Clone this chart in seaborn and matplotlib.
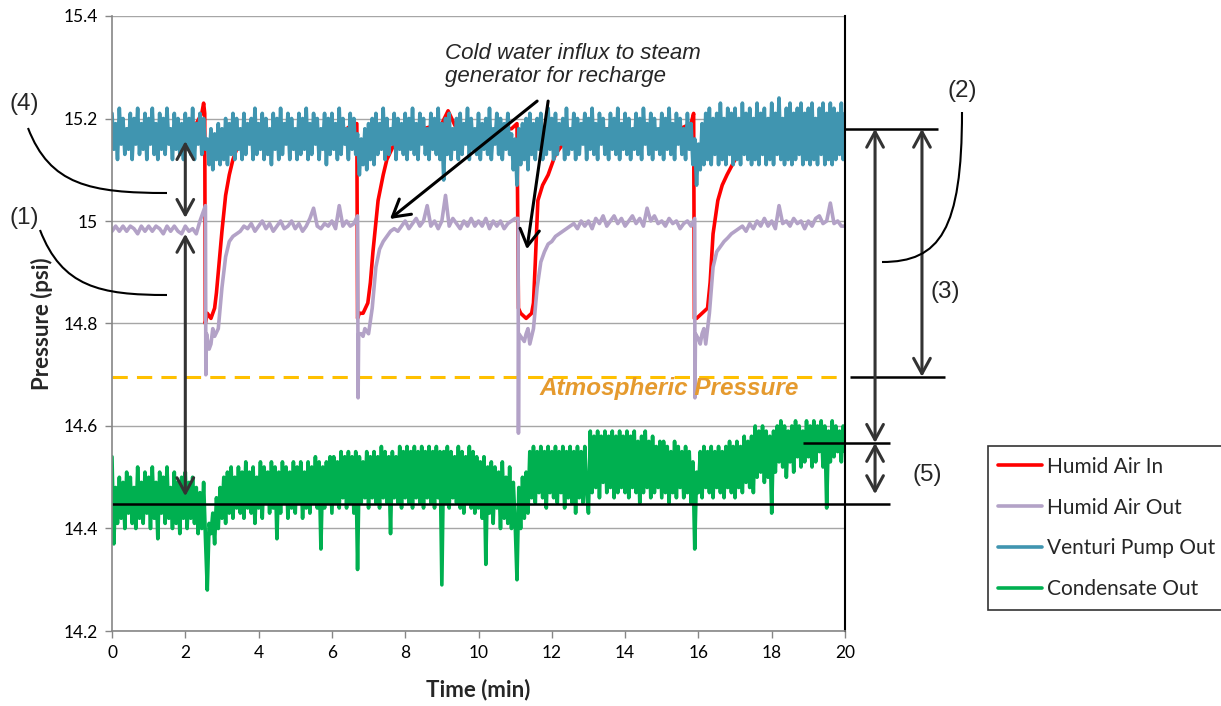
import matplotlib
matplotlib.use("Agg")
import numpy as np
import pandas as pd
import matplotlib.pyplot as plt
import seaborn as sns
from matplotlib.path import Path
from matplotlib.patches import PathPatch

# ---------------- data ----------------
series_names = ["Humid Air In", "Humid Air Out", "Venturi Pump Out", "Condensate Out"]
series_colors = ["#FF0000", "#B3A2C7", "#4095B0", "#00B050"]

x_ticks = [0, 2, 4, 6, 8, 10, 12, 14, 16, 18, 20]
y_ticks = [14.2, 14.4, 14.6, 14.8, 15.0, 15.2, 15.4]
y_tick_labels = ["14.2", "14.4", "14.6", "14.8", "15", "15.2", "15.4"]

grid_time = [round(0.1 * i, 1) for i in range(201)]
fine_time = [round(0.05 * i, 2) for i in range(401)]

venturi_values = [
    15.21, 15.14, 15.19, 15.12, 15.22, 15.15, 15.20, 15.13, 15.18, 15.14, 15.21, 15.12, 15.20, 15.15, 15.22, 15.13, 15.19, 15.14, 15.21, 15.12,
    15.20, 15.15, 15.22, 15.13, 15.19, 15.12, 15.21, 15.14, 15.20, 15.13, 15.22, 15.15, 15.18, 15.12, 15.21, 15.14, 15.20, 15.13, 15.19, 15.12,
    15.21, 15.14, 15.20, 15.13, 15.22, 15.12, 15.19, 15.15, 15.21, 15.13, 15.20, 15.14, 15.16, 15.11, 15.18, 15.10, 15.17, 15.12, 15.19, 15.11,
    15.18, 15.12, 15.20, 15.11, 15.19, 15.13, 15.21, 15.12, 15.20, 15.14, 15.18, 15.12, 15.21, 15.13, 15.19, 15.15, 15.20, 15.12, 15.22, 15.13,
    15.19, 15.14, 15.21, 15.12, 15.20, 15.13, 15.18, 15.11, 15.21, 15.14, 15.20, 15.12, 15.22, 15.13, 15.19, 15.15, 15.21, 15.12, 15.20, 15.14,
    15.18, 15.12, 15.21, 15.13, 15.20, 15.14, 15.22, 15.12, 15.19, 15.13, 15.21, 15.15, 15.20, 15.12, 15.18, 15.14, 15.21, 15.11, 15.20, 15.13,
    15.21, 15.14, 15.19, 15.12, 15.22, 15.13, 15.20, 15.15, 15.18, 15.12, 15.21, 15.14, 15.20, 15.13, 15.17, 15.09, 15.16, 15.11, 15.18, 15.10,
    15.19, 15.12, 15.20, 15.11, 15.21, 15.13, 15.19, 15.14, 15.22, 15.12, 15.20, 15.13, 15.18, 15.15, 15.21, 15.12, 15.20, 15.14, 15.19, 15.13,
    15.21, 15.12, 15.20, 15.14, 15.22, 15.13, 15.19, 15.12, 15.21, 15.15, 15.20, 15.13, 15.18, 15.12, 15.21, 15.14, 15.20, 15.13, 15.22, 15.12,
    15.19, 15.08, 15.20, 15.13, 15.21, 15.12, 15.18, 15.14, 15.20, 15.12, 15.21, 15.13, 15.19, 15.15, 15.22, 15.12, 15.20, 15.14, 15.18, 15.13,
    15.21, 15.12, 15.19, 15.14, 15.20, 15.13, 15.22, 15.12, 15.18, 15.15, 15.21, 15.13, 15.20, 15.12, 15.19, 15.14, 15.21, 15.13, 15.17, 15.10,
    15.16, 15.07, 15.18, 15.11, 15.19, 15.12, 15.20, 15.10, 15.21, 15.13, 15.19, 15.12, 15.20, 15.14, 15.21, 15.12, 15.18, 15.13, 15.22, 15.14,
    15.20, 15.12, 15.21, 15.13, 15.19, 15.15, 15.20, 15.12, 15.22, 15.13, 15.18, 15.14, 15.21, 15.12, 15.20, 15.13, 15.19, 15.15, 15.21, 15.12,
    15.20, 15.14, 15.22, 15.13, 15.19, 15.12, 15.21, 15.15, 15.20, 15.13, 15.18, 15.12, 15.21, 15.14, 15.20, 15.13, 15.22, 15.12, 15.19, 15.14,
    15.21, 15.13, 15.20, 15.12, 15.18, 15.14, 15.21, 15.13, 15.20, 15.12, 15.22, 15.15, 15.19, 15.13, 15.21, 15.12, 15.20, 15.14, 15.18, 15.13,
    15.21, 15.12, 15.20, 15.14, 15.22, 15.13, 15.19, 15.12, 15.21, 15.15, 15.20, 15.13, 15.18, 15.12, 15.21, 15.14, 15.19, 15.11, 15.16, 15.07,
    15.15, 15.10, 15.19, 15.11, 15.21, 15.12, 15.22, 15.11, 15.20, 15.13, 15.21, 15.11, 15.23, 15.12, 15.20, 15.11, 15.22, 15.13, 15.21, 15.11,
    15.22, 15.12, 15.20, 15.11, 15.23, 15.13, 15.21, 15.12, 15.22, 15.11, 15.20, 15.12, 15.23, 15.11, 15.21, 15.13, 15.22, 15.11, 15.20, 15.12,
    15.23, 15.11, 15.21, 15.13, 15.24, 15.12, 15.20, 15.11, 15.22, 15.12, 15.23, 15.11, 15.21, 15.12, 15.22, 15.13, 15.23, 15.11, 15.21, 15.12,
    15.22, 15.11, 15.23, 15.12, 15.20, 15.11, 15.22, 15.13, 15.23, 15.11, 15.21, 15.12, 15.23, 15.11, 15.22, 15.12, 15.21, 15.13, 15.23, 15.12,
    15.21,
]

condensate_values = [
    14.54, 14.37, 14.48, 14.41, 14.50, 14.42, 14.49, 14.40, 14.51, 14.43, 14.50, 14.41, 14.48, 14.40, 14.52, 14.42, 14.49, 14.41, 14.51, 14.43,
    14.50, 14.40, 14.52, 14.42, 14.49, 14.38, 14.51, 14.43, 14.50, 14.41, 14.52, 14.42, 14.48, 14.40, 14.51, 14.41, 14.49, 14.39, 14.50, 14.42,
    14.51, 14.40, 14.49, 14.42, 14.50, 14.41, 14.48, 14.39, 14.47, 14.40, 14.49, 14.38, 14.28, 14.41, 14.39, 14.43, 14.37, 14.46, 14.40, 14.48,
    14.42, 14.50, 14.41, 14.51, 14.43, 14.52, 14.42, 14.50, 14.44, 14.52, 14.43, 14.51, 14.42, 14.53, 14.44, 14.51, 14.43, 14.52, 14.41, 14.50,
    14.44, 14.53, 14.42, 14.52, 14.45, 14.51, 14.43, 14.53, 14.44, 14.52, 14.38, 14.51, 14.43, 14.53, 14.45, 14.52, 14.42, 14.51, 14.44, 14.53,
    14.43, 14.52, 14.45, 14.53, 14.42, 14.51, 14.44, 14.53, 14.43, 14.52, 14.45, 14.54, 14.44, 14.53, 14.36, 14.52, 14.44, 14.53, 14.45, 14.54,
    14.43, 14.54, 14.45, 14.53, 14.44, 14.55, 14.46, 14.54, 14.44, 14.55, 14.45, 14.54, 14.43, 14.55, 14.32, 14.54, 14.45, 14.53, 14.46, 14.55,
    14.44, 14.54, 14.46, 14.55, 14.45, 14.54, 14.44, 14.56, 14.46, 14.55, 14.45, 14.54, 14.39, 14.55, 14.46, 14.54, 14.45, 14.56, 14.44, 14.55,
    14.46, 14.56, 14.45, 14.55, 14.44, 14.56, 14.46, 14.55, 14.45, 14.56, 14.44, 14.55, 14.46, 14.56, 14.45, 14.55, 14.44, 14.56, 14.46, 14.55,
    14.29, 14.55, 14.45, 14.56, 14.44, 14.55, 14.46, 14.54, 14.45, 14.56, 14.44, 14.55, 14.43, 14.54, 14.45, 14.56, 14.44, 14.55, 14.43, 14.54,
    14.44, 14.53, 14.42, 14.54, 14.33, 14.52, 14.43, 14.53, 14.41, 14.52, 14.44, 14.51, 14.40, 14.53, 14.42, 14.50, 14.41, 14.52, 14.40, 14.49,
    14.41, 14.30, 14.48, 14.40, 14.50, 14.42, 14.51, 14.43, 14.55, 14.46, 14.56, 14.45, 14.55, 14.47, 14.56, 14.46, 14.55, 14.44, 14.56, 14.47,
    14.55, 14.46, 14.56, 14.45, 14.55, 14.47, 14.56, 14.44, 14.55, 14.46, 14.56, 14.45, 14.55, 14.43, 14.56, 14.46, 14.55, 14.45, 14.56, 14.47,
    14.43, 14.59, 14.47, 14.58, 14.48, 14.59, 14.46, 14.58, 14.49, 14.59, 14.47, 14.58, 14.48, 14.59, 14.46, 14.58, 14.47, 14.59, 14.48, 14.58,
    14.47, 14.59, 14.46, 14.58, 14.48, 14.59, 14.47, 14.57, 14.45, 14.58, 14.47, 14.59, 14.48, 14.57, 14.46, 14.58, 14.47, 14.56, 14.48, 14.57,
    14.46, 14.57, 14.47, 14.56, 14.45, 14.55, 14.47, 14.57, 14.46, 14.56, 14.48, 14.55, 14.46, 14.56, 14.47, 14.55, 14.45, 14.53, 14.36, 14.51,
    14.47, 14.55, 14.46, 14.56, 14.48, 14.55, 14.47, 14.56, 14.46, 14.55, 14.48, 14.56, 14.47, 14.55, 14.46, 14.56, 14.48, 14.57, 14.47, 14.56,
    14.46, 14.57, 14.48, 14.56, 14.47, 14.58, 14.49, 14.57, 14.48, 14.58, 14.47, 14.60, 14.50, 14.59, 14.51, 14.60, 14.49, 14.59, 14.50, 14.58,
    14.43, 14.59, 14.51, 14.60, 14.53, 14.61, 14.52, 14.60, 14.50, 14.59, 14.53, 14.60, 14.51, 14.61, 14.54, 14.60, 14.52, 14.59, 14.53, 14.61,
    14.54, 14.60, 14.52, 14.61, 14.53, 14.60, 14.55, 14.61, 14.52, 14.60, 14.44, 14.59, 14.53, 14.61, 14.54, 14.60, 14.55, 14.59, 14.53, 14.60,
    14.55,
]

humid_out_grid_values = [
    14.98, 14.99, 14.98, 14.99, 14.98, 14.99, 14.985, 14.975, 14.99, 14.98,
    14.99, 14.98, 14.99, 14.985, 14.975, 14.99, 14.98, 14.99, 14.98, 14.975,
    14.99, 14.98, 14.985, 14.975, 15.00, 15.02, 14.77, 14.76, 14.775, 14.79,
    14.87, 14.93, 14.96, 14.97, 14.975, 14.98, 14.99, 14.985, 14.995, 14.98,
    14.99, 15.00, 14.985, 14.995, 14.98, 14.99, 15.00, 14.985, 14.99, 15.00,
    14.985, 14.995, 14.98, 14.99, 15.005, 15.025, 14.99, 14.985, 14.995, 14.99,
    15.00, 14.985, 15.03, 14.99, 15.00, 14.99, 14.995, 15.01, 14.78, 14.79,
    14.78, 14.83, 14.91, 14.945, 14.96, 14.97, 14.98, 14.985, 14.98, 14.99,
    15.00, 14.985, 14.995, 15.005, 14.99, 15.00, 15.03, 14.99, 15.00, 14.985,
    15.00, 15.05, 14.99, 15.005, 14.995, 14.985, 15.00, 14.99, 15.005, 14.99,
    15.00, 14.99, 15.005, 14.985, 15.00, 14.99, 15.00, 14.985, 14.995, 15.00,
    15.005, 14.78, 14.77, 14.78, 14.76, 14.79, 14.87, 14.92, 14.94, 14.955,
    14.96, 14.97, 14.975, 14.98, 14.985, 14.99, 14.995, 14.985, 15.00, 14.99,
    15.00, 14.985, 15.005, 14.995, 15.01, 14.99, 15.00, 15.01, 14.995, 15.005,
    14.99, 15.00, 15.01, 14.995, 15.005, 14.99, 15.025, 15.00, 15.01, 14.995,
    15.00, 14.99, 15.005, 14.995, 15.00, 14.985, 14.995, 15.00, 14.99, 15.005,
    14.77, 14.78, 14.76, 14.82, 14.91, 14.94, 14.95, 14.96, 14.967, 14.975,
    14.98, 14.985, 14.99, 14.98, 14.995, 14.985, 15.00, 14.99, 15.005, 14.99,
    15.00, 14.985, 15.03, 14.995, 15.00, 14.99, 15.005, 14.995, 15.00, 14.985,
    15.00, 14.99, 15.005, 15.01, 14.995, 15.00, 15.035, 14.995, 15.00, 14.99,
    14.99,
]

# extra samples at the sharp recharge spikes (time, psi)
humid_out_spike_points = [
    (2.55, 15.03), (2.56, 14.70), (2.58, 14.78), (2.65, 14.75), (2.75, 14.79),
    (6.715, 14.655), (6.73, 14.78), (6.85, 14.775),
    (11.08, 15.005), (11.09, 14.586), (11.25, 14.765), (11.35, 14.79),
    (15.905, 14.655), (15.92, 14.78), (16.05, 14.76), (16.15, 14.79),
]

humid_in_points = [
    (0.0, 15.17), (0.5, 15.18), (1.0, 15.17), (1.5, 15.18), (2.0, 15.17),
    (2.3, 15.19), (2.45, 15.21), (2.5, 15.23), (2.53, 15.21), (2.545, 14.80),
    (2.6, 14.82), (2.7, 14.81), (2.8, 14.83), (2.85, 14.86), (2.9, 14.90),
    (3.0, 14.98), (3.1, 15.05), (3.2, 15.09), (3.3, 15.12), (3.4, 15.14),
    (3.6, 15.16), (4.0, 15.17), (4.5, 15.18), (5.0, 15.17), (5.5, 15.18),
    (6.0, 15.17), (6.4, 15.18), (6.6, 15.19), (6.68, 15.19), (6.70, 14.81),
    (6.75, 14.82), (6.85, 14.82), (6.98, 14.84), (7.05, 14.88), (7.12, 14.94),
    (7.26, 15.04), (7.4, 15.09), (7.5, 15.12), (7.7, 15.15), (8.0, 15.17),
    (8.5, 15.18), (9.0, 15.19), (9.17, 15.215), (9.4, 15.18), (10.0, 15.17),
    (10.5, 15.18), (10.9, 15.18), (11.05, 15.19), (11.09, 14.83), (11.15, 14.82),
    (11.3, 14.81), (11.45, 14.82), (11.5, 14.84), (11.55, 14.92), (11.62, 15.04),
    (11.75, 15.07), (11.9, 15.09), (12.1, 15.13), (12.4, 15.16), (13.0, 15.17),
    (13.5, 15.18), (14.0, 15.17), (14.5, 15.18), (15.0, 15.17), (15.5, 15.18),
    (15.8, 15.19), (15.87, 15.21), (15.89, 14.81), (15.95, 14.81), (16.1, 14.82),
    (16.25, 14.83), (16.32, 14.88), (16.4, 14.975), (16.53, 15.04), (16.65, 15.07),
    (16.78, 15.09), (17.0, 15.12), (17.3, 15.15), (17.6, 15.16), (18.0, 15.16),
    (18.3, 15.15), (18.6, 15.16), (19.0, 15.17), (19.5, 15.18), (20.0, 15.17),
]

atmospheric_psi = 14.696
level_2_psi = 15.18     # top reference (venturi)
level_5_psi = 14.567    # condensate upper level
level_base_psi = 14.448 # condensate baseline

# ---------------- build table ----------------
frames = []
t_in, v_in = zip(*humid_in_points)
frames.append(pd.DataFrame({"time": t_in, "psi": v_in, "series": series_names[0]}))
out_pts = list(zip(grid_time, humid_out_grid_values)) + humid_out_spike_points
out_pts.sort(key=lambda p: p[0])
t_out, v_out = zip(*out_pts)
frames.append(pd.DataFrame({"time": t_out, "psi": v_out, "series": series_names[1]}))
frames.append(pd.DataFrame({"time": fine_time, "psi": venturi_values, "series": series_names[2]}))
frames.append(pd.DataFrame({"time": fine_time, "psi": condensate_values, "series": series_names[3]}))
df = pd.concat(frames, ignore_index=True)

# ---------------- plot ----------------
W, H = 1221, 706
sns.set_theme(style="white")
plt.rcParams["font.family"] = ["Lato", "DejaVu Sans"]

fig = plt.figure(figsize=(W / 100, H / 100), dpi=100)
ax = fig.add_axes([112 / W, 1 - 631 / H, (845 - 112) / W, (631 - 16) / H])


def px(x, y):
    return (x / W, 1 - y / H)


sns.lineplot(data=df, x="time", y="psi", hue="series", hue_order=series_names,
             palette=dict(zip(series_names, series_colors)), estimator=None,
             sort=True, linewidth=2.6, ax=ax)
# Humid Air Out is drawn a bit heavier in the original
for ln in ax.lines:
    if ln.get_label() == series_names[1]:
        ln.set_linewidth(3.3)

ax.set_xlim(0, 20)
ax.set_ylim(14.2, 15.4)
ax.set_xticks(x_ticks)
ax.set_yticks(y_ticks)
ax.set_yticklabels(y_tick_labels)
ax.yaxis.grid(True, color="#A6A6A6", lw=1)
ax.xaxis.grid(False)
for s in ["left", "bottom"]:
    ax.spines[s].set_color("#868686")
    ax.spines[s].set_linewidth(1.2)
ax.spines["top"].set_visible(False)
ax.spines["right"].set_color("black")
ax.spines["right"].set_linewidth(1.5)
ax.tick_params(axis="both", direction="out", length=5, width=1, color="#868686",
               labelsize=12.5, labelcolor="black", bottom=True, left=True, pad=5)
ax.set_xlabel("Time (min)", fontsize=16, fontweight="bold", labelpad=13)
ax.set_ylabel("Pressure (psi)", fontsize=16, fontweight="bold", labelpad=8)

# atmospheric line
ax.axhline(atmospheric_psi, color="#FFC000", lw=2.2, dashes=(5, 3), zorder=1.5)
ax.text(15.2, 14.673, "Atmospheric Pressure", color="#E59A2E", fontsize=17.5,
        fontweight="bold", fontstyle="italic", ha="center", va="center",
        family=["Liberation Sans", "DejaVu Sans"])

# legend
handles, labels = ax.get_legend_handles_labels()
ax.get_legend().remove()
leg = fig.legend(handles, labels, loc="upper left",
                 bbox_to_anchor=(988 / W, 1 - 447 / H, 240 / W, 0.001), mode="expand",
                 fontsize=15, frameon=True, fancybox=False, edgecolor="black",
                 handlelength=2.1, handletextpad=0.25, labelspacing=1.0,
                 borderpad=0.5, borderaxespad=0)
leg.get_frame().set_linewidth(1.2)
for h in leg.get_lines():
    h.set_linewidth(2.6)

# annotation arrows (data coordinates)
dark = "#333333"
arrow2 = dict(arrowstyle="<->,head_length=0.55,head_width=0.3", color=dark, lw=2.2,
              mutation_scale=20, shrinkA=0, shrinkB=0)
ax.annotate("", xy=(2.0, 15.006), xytext=(2.0, 15.156), arrowprops=arrow2)
ax.annotate("", xy=(2.0, 14.463), xytext=(2.0, 14.975), arrowprops=arrow2)
ax.annotate("", xy=(20.82, level_5_psi), xytext=(20.82, level_2_psi), arrowprops=arrow2,
            annotation_clip=False)
ax.annotate("", xy=(20.82, 14.467), xytext=(20.82, level_5_psi), arrowprops=arrow2,
            annotation_clip=False)
ax.annotate("", xy=(22.10, atmospheric_psi), xytext=(22.10, level_2_psi), arrowprops=arrow2,
            annotation_clip=False)

line_kw = dict(color="black", lw=1.8, clip_on=False, solid_capstyle="butt")
ax.plot([0, 21.23], [level_base_psi, level_base_psi], **line_kw)
ax.plot([20.0, 22.54], [level_2_psi, level_2_psi], **line_kw)
ax.plot([20.14, 22.73], [atmospheric_psi, atmospheric_psi], **line_kw)
ax.plot([18.85, 21.23], [level_5_psi, level_5_psi], **line_kw)

# cold water arrows
arrow1 = dict(arrowstyle="->,head_length=0.6,head_width=0.35", color="black", lw=2.2,
              mutation_scale=20, shrinkA=0, shrinkB=0)
ax.annotate("", xy=(7.585, 15.004), xytext=(11.6, 15.234), arrowprops=arrow1)
ax.annotate("", xy=(11.32, 14.945), xytext=(11.9, 15.234), arrowprops=arrow1)
fig.text(*px(445, 43), "Cold water influx to steam\ngenerator for recharge",
         fontsize=16, fontstyle="italic", ha="left", va="top", linespacing=1.1,
         family=["Liberation Sans", "DejaVu Sans"])

# callout numbers
num_kw = dict(fontsize=17.5, ha="center", va="center", family=["Liberation Sans", "DejaVu Sans"])
fig.text(*px(24, 104), "(4)", **num_kw)
fig.text(*px(24, 218), "(1)", **num_kw)
fig.text(*px(962, 91), "(2)", **num_kw)
fig.text(*px(945, 292), "(3)", **num_kw)
fig.text(*px(927, 475), "(5)", **num_kw)


def bezier(p0, p1, p2, p3):
    verts = [px(*p0), px(*p1), px(*p2), px(*p3)]
    codes = [Path.MOVETO, Path.CURVE4, Path.CURVE4, Path.CURVE4]
    fig.patches.append(PathPatch(Path(verts, codes), transform=fig.transFigure,
                                 fill=False, edgecolor="black", lw=1.5))


bezier((28, 128), (50, 185), (90, 193), (167, 193))
bezier((40, 230), (62, 287), (100, 295), (167, 295))
bezier((962, 112), (962, 230), (940, 262), (882, 262))

fig.savefig("out.png", dpi=100)
